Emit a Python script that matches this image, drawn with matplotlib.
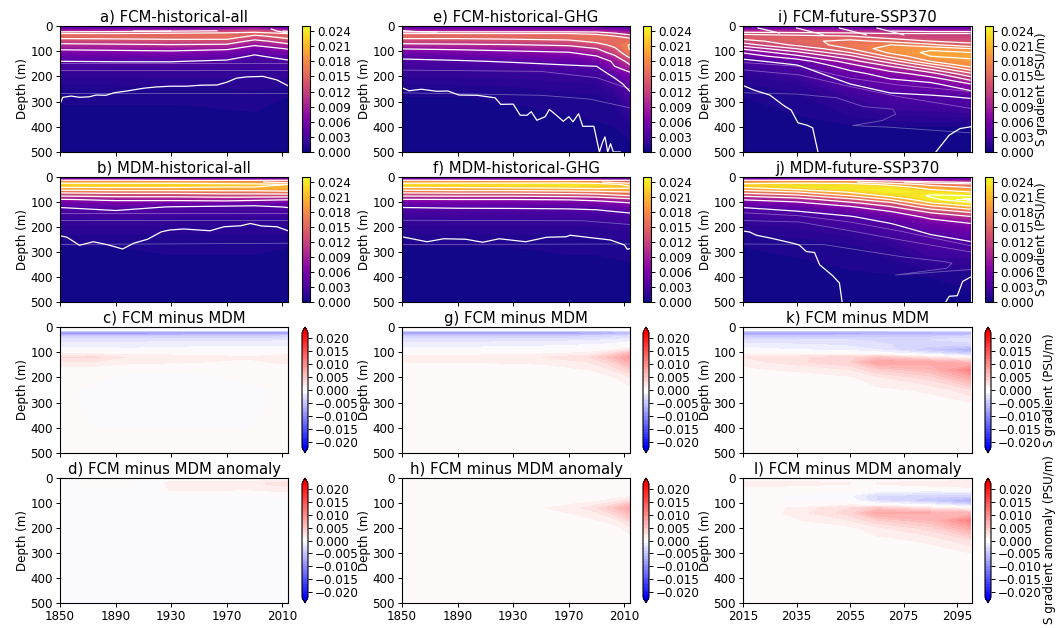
"""Salinity gradient depth-time panels: FCM, MDM and their differences."""

import matplotlib

matplotlib.use("Agg")
import matplotlib.pyplot as plt  # noqa: E402
import numpy as np  # noqa: E402

W, H = 1064, 628

# table values are in 0.001 PSU/m, one row per year knot
grad_depths = [0, 10, 20, 30, 40, 50, 60, 75, 90, 105, 120, 140, 160, 190, 230, 280, 400, 500]
diff_depths = [0, 12, 18, 25, 35, 50, 70, 90, 105, 120, 140, 170, 200, 250, 300, 500]

hist_years = [1850, 1890, 1930, 1970, 1990, 2014]
e_years = [1850, 1890, 1930, 1970, 1990, 2003, 2014]
future_years = [2015, 2035, 2055, 2070, 2085, 2100]

a_grad = [
    [4, 5, 9, 14, 15.5, 14, 12, 9.8, 7.5, 5.8, 4.6, 3.5, 2.5, 1.7, 1, 0.6, 0.2, 0.1],
    [4, 5, 9.5, 14, 15.5, 14.2, 12.4, 10, 7.8, 6, 4.7, 3.6, 2.5, 1.7, 1, 0.6, 0.2, 0.1],
    [4, 5, 10.5, 14.5, 15.5, 14.5, 12.7, 10.3, 8, 6.3, 5, 3.6, 2.6, 1.7, 1.1, 0.6, 0.2, 0.1],
    [4, 6, 11.5, 15, 16, 14.5, 12.7, 10, 7.5, 5.5, 4.4, 3.2, 2.4, 1.7, 1.1, 0.7, 0.2, 0.1],
    [4, 8, 13, 15, 13.5, 11.5, 9.5, 7.3, 5.5, 4, 3.2, 2.5, 2.1, 1.6, 1.2, 0.8, 0.2, 0.1],
    [4, 5, 10, 14, 15, 14, 12, 9.8, 7.2, 5.7, 4.4, 3.2, 2.5, 1.8, 1, 0.5, 0.2, 0.1],
]
b_grad = [
    [3, 6, 19, 23, 21.5, 18.5, 15, 10.8, 6.8, 4.8, 3.6, 2.6, 2, 1.5, 1, 0.5, 0.2, 0.1],
    [3, 6, 19, 23, 21.5, 19, 15.5, 11.5, 7.6, 5.6, 4.2, 3.2, 2.2, 1.5, 1, 0.5, 0.2, 0.1],
    [3, 6, 19, 23, 21.5, 19, 15.5, 11.5, 7.8, 5, 3.4, 2.7, 2, 1.5, 1, 0.6, 0.2, 0.1],
    [3, 6, 18, 22.5, 21, 19, 16, 12, 8.3, 4.8, 3.1, 2.5, 2, 1.5, 1, 0.6, 0.2, 0.1],
    [3, 6, 18, 22, 21, 19, 16, 12, 7.8, 4.5, 3, 2.5, 2, 1.5, 1, 0.6, 0.2, 0.1],
    [3, 6, 16, 21, 21, 19.5, 16.5, 12, 7.2, 4.8, 3.6, 2.7, 2, 1.5, 1, 0.5, 0.2, 0.1],
]
e_grad = [
    [4, 5, 9, 14, 15.5, 14, 12, 9.8, 7.1, 5.4, 4.1, 3, 2.3, 1.7, 1, 0.5, 0.2, 0.1],
    [4, 5, 9, 14, 15.5, 14, 12.3, 10, 7.5, 5.7, 4.4, 3.3, 2.3, 1.7, 1, 0.5, 0.2, 0.1],
    [4, 5, 9, 14, 15.5, 14.4, 12.7, 10.3, 8, 6.3, 5.2, 3.7, 2.8, 1.8, 1.1, 0.6, 0.2, 0.1],
    [4, 5, 9, 14, 15.5, 15, 13.2, 11, 8.6, 6.9, 5.7, 4.4, 3.2, 2.1, 1.3, 0.8, 0.3, 0.1],
    [4, 5, 9, 13, 16, 16, 15, 12.7, 10.4, 8.6, 6.9, 5.2, 3.5, 2.3, 1.5, 0.9, 0.4, 0.2],
    [3.5, 4.5, 8, 11, 14, 15.5, 15.5, 15, 13.5, 12, 10, 7.5, 7, 4.2, 2.5, 1.2, 0.5, 0.2],
    [3, 4, 7, 9, 12, 14.4, 16, 17.8, 17.8, 16.7, 15, 12, 9.8, 6.2, 4.4, 2.9, 0.7, 0.3],
]
f_grad = [
    [3, 6, 19, 23, 21.5, 18.5, 15, 10.8, 6.8, 4.8, 3.6, 2.6, 2, 1.5, 1, 0.5, 0.2, 0.1],
    [3, 6, 19, 23.5, 21.5, 19, 15.5, 11, 7, 5, 3.7, 2.9, 2.1, 1.5, 1, 0.5, 0.2, 0.1],
    [3, 6, 19, 23.5, 22, 19, 15.5, 11, 7, 5, 3.7, 3, 2.1, 1.5, 1, 0.5, 0.2, 0.1],
    [3, 6, 19, 24, 22.5, 19.5, 16, 11.5, 7.2, 5.1, 3.8, 3, 2.1, 1.5, 1, 0.6, 0.2, 0.1],
    [3, 6, 18, 23.5, 22.5, 20, 16.5, 12, 7.8, 5.5, 4, 3.1, 2.2, 1.6, 1.1, 0.6, 0.2, 0.1],
    [3, 5, 15, 20, 21.5, 20.5, 17.5, 14, 9.5, 6.7, 5, 3.7, 2.7, 1.9, 1.3, 0.7, 0.3, 0.1],
]
i_grad = [
    [3, 5, 10, 13, 14.5, 14, 12.5, 10.5, 7.8, 5.7, 4.2, 3, 2.2, 1.5, 0.9, 0.5, 0.2, 0.1],
    [3, 5, 10, 12.5, 14, 15, 15, 14, 11.5, 9, 7, 4.3, 3.2, 2.4, 1.4, 0.8, 0.3, 0.2],
    [3, 5, 10, 12, 13.5, 15, 16, 16.5, 15.5, 13.5, 11, 8.5, 6.5, 4.7, 3.5, 2, 0.4, 0.2],
    [3, 5, 9.5, 11.5, 12.5, 13.5, 15, 17.5, 19, 18, 16, 12.5, 9.5, 6.5, 4.5, 3.1, 0.5, 0.3],
    [3, 5, 9, 11.5, 12, 12.5, 13.5, 16, 19, 20, 19.5, 17.5, 13.5, 8.5, 5, 3.3, 0.5, 0.3],
    [3, 5, 9, 11.5, 12, 12.5, 13, 14, 17.5, 19.5, 20, 19, 18, 13, 7.5, 3.7, 0.5, 0.3],
]
j_grad = [
    [3, 6, 18, 22.5, 21.5, 18.5, 15.5, 11, 7.2, 5, 3.6, 2.7, 2, 1.4, 0.9, 0.5, 0.2, 0.1],
    [3, 6, 19, 23.5, 23.5, 21, 17.5, 13, 8.8, 6, 4.4, 3.3, 2.4, 1.7, 1.1, 0.6, 0.3, 0.1],
    [3, 6, 18, 23, 24, 23.5, 21.5, 17.5, 13, 9.5, 6.5, 4.4, 3.3, 2.4, 1.6, 0.8, 0.4, 0.2],
    [3, 5, 15, 20, 23, 24.5, 24.5, 22, 17.5, 13, 10, 6.6, 4.6, 3.3, 2.4, 1.4, 0.4, 0.3],
    [3, 5, 12, 16.5, 19, 21, 23.5, 24.8, 24, 20.5, 16, 11, 7.7, 5, 3.5, 2.7, 0.5, 0.3],
    [3, 5, 11, 15, 17, 19, 21, 24.5, 26, 24, 20, 14.5, 10, 6.5, 4.4, 2.8, 0.6, 0.4],
]

c_years = [1850, 1875, 1900, 1950, 1985, 2014]
c_diff = [
    [0, -0.5, -7, -9.5, -4.5, -2.5, -1.5, -0.6, 0.8, 3, 1.8, 0.3, 0.2, 0.2, 0.2, 0.2],
    [0, -0.5, -7, -9.5, -4.5, -2.5, -1.5, -0.6, 0.8, 3.2, 1.8, 0.3, 0.2, -0.2, -0.2, 0.2],
    [0, -0.5, -7, -9.5, -4.5, -2.5, -1.5, -0.8, 0.6, 1.8, 1.2, 0.2, -0.2, -0.2, -0.2, 0.2],
    [0, -0.5, -7, -9, -4.5, -2.5, -1.3, -0.6, 0.5, 1.6, 1, 0.2, -0.2, -0.2, -0.2, 0.2],
    [0, -0.5, -7, -9, -4.5, -2.5, -1.3, -0.5, 0.4, 1.1, 0.8, 0.2, 0.2, -0.2, -0.2, 0.2],
    [0, -0.5, -6.5, -8.5, -4, -2.2, -1.2, -0.5, 0.6, 1.8, 1.2, 0.3, 0.2, 0.2, 0.2, 0.2],
]
d_years = [1850, 1875, 1920, 1930, 1985, 2014]
d_diff = [
    [0, -0.3, -0.5, -0.6, -0.4, -0.2, -0.2, -0.2, -0.2, -0.2, -0.2, -0.2, -0.2, -0.2, -0.2, -0.2],
    [0, 0.4, 0.6, 0.5, 0.3, -0.2, -0.2, -0.3, -0.2, -0.2, -0.2, -0.2, -0.2, -0.2, -0.2, -0.2],
    [0, -0.2, -0.3, -0.3, -0.2, -0.2, -0.2, -0.2, -0.2, -0.2, -0.2, -0.2, -0.2, -0.2, -0.2, -0.2],
    [0, 1, 1.8, 1.8, 1.6, 1.1, -0.2, -0.2, -0.2, -0.2, -0.2, -0.2, -0.2, -0.2, -0.2, -0.2],
    [0, 0.8, 1.6, 1.6, 1.4, 0.9, -0.2, -0.2, -0.2, -0.2, -0.2, -0.2, -0.2, -0.2, -0.2, -0.2],
    [0, 1.5, 2.5, 2.5, 2, 1.3, 0.2, -0.2, -0.2, -0.2, -0.2, -0.2, -0.2, -0.2, -0.2, -0.2],
]
g_years = [1850, 1900, 1950, 1985, 2000, 2014]
g_diff = [
    [0, -0.5, -7, -9, -4.5, -2.5, -1.5, -0.5, 0.6, 1.5, 1, 0.3, 0.2, 0.2, 0.2, 0.2],
    [0, -0.5, -7, -9, -4.5, -2.5, -1.5, -0.5, 0.6, 1.5, 1, 0.3, 0.2, 0.2, 0.2, 0.2],
    [0, -0.5, -7, -9, -4.5, -2.5, -1.3, -0.3, 0.8, 2, 1.2, 0.4, 0.2, 0.2, 0.2, 0.2],
    [0, -0.5, -6.5, -8, -4, -2.2, -1, 0.3, 1.3, 3, 2, 1, 0.4, 0.3, 0.2, 0.2],
    [0, -0.5, -6, -7.5, -3.5, -2, -0.8, 0.8, 3, 5.5, 3.5, 2, 0.8, 0.4, 0.2, 0.2],
    [0, -0.5, -5, -6, -3, -1.5, -0.3, 2, 6, 8.5, 7, 4, 1.8, 0.6, 0.3, 0.2],
]
h_years = [1850, 1925, 1970, 1990, 2003, 2014]
h_diff = [
    [0, 0.2, 0.2, 0.2, 0.2, 0.2, 0.2, 0.2, 0.2, 0.2, 0.2, 0.2, 0.2, 0.2, 0.2, 0.2],
    [0, 0.2, 0.2, 0.2, 0.2, 0.2, 0.2, 0.2, 0.3, 0.5, 0.3, 0.2, 0.2, 0.2, 0.2, 0.2],
    [0, 0.2, 0.2, 0.2, 0.2, 0.2, 0.2, 0.4, 0.9, 1.3, 1, 0.4, 0.2, 0.2, 0.2, 0.2],
    [0, 0.2, 0.2, 0.2, 0.2, 0.2, 0.2, 0.7, 1.7, 2.8, 1.8, 0.9, 0.3, 0.2, 0.2, 0.2],
    [0, 0.2, 0.2, 0.2, 0.2, 0.2, 0.3, 1.5, 3, 5, 3.5, 1.5, 0.6, 0.2, 0.2, 0.2],
    [0, 0.2, 0.2, 0.2, 0.2, 0.2, 0.6, 2.5, 5.5, 7.5, 6, 3.5, 1.5, 0.5, 0.2, 0.2],
]
k_years = [2015, 2021, 2055, 2065, 2085, 2100]
k_diff = [
    [0, -0.5, -6, -8.5, -5, -3, -1.5, -0.5, 0.6, 2, 1.5, 0.5, -0.2, -0.2, -0.2, -0.2],
    [0, -0.5, -6, -8.5, -5, -3, -1.6, -0.7, 0.6, 2.3, 1.8, 0.8, 0.2, 0.2, 0.2, 0.2],
    [0, -0.5, -6, -8, -5, -3, -2.2, -1.5, 0.5, 3.5, 4, 2, 0.8, 0.2, 0.2, 0.2],
    [0, -0.5, -6, -7.5, -5, -3.2, -2.8, -2, -0.3, 5, 8, 4, 1.8, 0.7, 0.2, 0.2],
    [0, -0.5, -5.5, -7.5, -4.5, -3, -3.5, -5, -2, 2, 7.5, 6, 3.5, 1.2, 0.5, 0.2],
    [0, -0.5, -5, -7, -4, -2.5, -3.5, -7.5, -4.5, 0.3, 6, 10.5, 7.5, 2.8, 1, 0.2],
]
l_years = [2015, 2021, 2055, 2065, 2085, 2100]
l_diff = [
    [0, 0.8, 1.5, 1.5, 1, 0.5, -0.2, -0.2, -0.2, -0.2, -0.2, -0.2, -0.2, -0.2, -0.2, -0.2],
    [0, 1, 1.5, 1.5, 1, 0.8, 0.3, 0.1, 0.1, 0.1, 0.1, 0.1, 0.1, 0.1, 0.1, 0.1],
    [0, 0.5, 1, 1, 0.6, 0.3, -0.8, -0.3, 0.6, 3, 3.5, 2, 0.7, 0.2, 0.2, 0.2],
    [0, 0.5, 1, 1, 0.5, -0.5, -3, -3, -0.3, 4.5, 7.5, 3.8, 1.7, 0.6, 0.2, 0.2],
    [0, 0.8, 1.5, 1.5, 0.8, -0.8, -3.5, -5, -1.5, 2, 7, 6, 3.5, 1.2, 0.5, 0.2],
    [0, 1.2, 2, 2, 1.2, -0.5, -3.5, -7.5, -4, 0.5, 6, 10.5, 7.5, 2.8, 1, 0.2],
]

# bold contours traced by hand (year, depth)
a_line = [
    [1850, 1852, 1858, 1864, 1871, 1876, 1883, 1889, 1898, 1910, 1919, 1929, 1941, 1951, 1963,
     1970, 1977, 1984, 1996, 2006, 2014],
    [310, 283, 278, 283, 281, 274, 275, 265, 258, 247, 242, 239, 239, 235, 234,
     223, 207, 202, 200, 214, 237],
]
a_top = [[1903, 1920, 1940, 1963], [20, 21, 20, 19]]
a_top2 = [[2002, 2006, 2014], [12, 20, 28]]
b_line = [
    [1850, 1855, 1864, 1874, 1885, 1895, 1903, 1913, 1923, 1929, 1939, 1958, 1968, 1980, 1987,
     1995, 2006, 2014],
    [235, 241, 273, 259, 272, 288, 265, 249, 219, 212, 208, 215, 199, 195, 186, 196, 199, 215],
]
b_top = [[1850, 1900, 1950, 2014], [13, 13, 14, 13]]
e_line = [
    [1850, 1855, 1864, 1875, 1883, 1891, 1904, 1917, 1921, 1930, 1935, 1940, 1943, 1947, 1953,
     1956, 1961, 1966, 1970, 1973, 1977, 1980, 1988, 1992, 1994, 1996, 1998, 2000, 2002, 2007],
    [245, 257, 251, 259, 258, 274, 275, 285, 311, 310, 354, 354, 340, 374, 360,
     331, 354, 378, 360, 380, 348, 398, 398, 500, 465, 440, 500, 467, 500, 500],
]
e_top = [[1850, 1860, 1875], [18, 22, 24]]
f_line = [
    [1850, 1858, 1868, 1880, 1896, 1908, 1920, 1939, 1954, 1968, 1971, 1983, 2000, 2010, 2012, 2014],
    [239, 248, 259, 247, 249, 261, 247, 259, 241, 239, 233, 241, 252, 272, 289, 286],
]
f_top = [[1850, 1950, 2014], [13, 14, 13]]
i_line = [
    [2015, 2019, 2025, 2030, 2033, 2035.5, 2039, 2041, 2043],
    [236, 254, 274, 314, 334, 384, 394, 404, 500],
]
i_line2 = [[2087, 2092, 2096, 2100], [500, 433, 407, 400]]
i_top = [[2020.6, 2028.6], [8, 28]]
i_top2 = [[2035, 2045], [8, 35]]
i_top3 = [[2051, 2061], [8, 35]]
i_top4 = [[2065, 2075], [8, 35]]
j_line = [
    [2015, 2017.5, 2020, 2025.6, 2033.6, 2036, 2038.6, 2041.7, 2043.6, 2048.5, 2051, 2052],
    [216, 220, 233, 245, 265, 272, 298, 302, 351, 395, 424, 500],
]
j_line2 = [[2090.7, 2092, 2095, 2097, 2100], [500, 477, 475, 418, 400]]
j_top = [[2015, 2060, 2100], [13, 14, 22]]

# faint contours
flat_years = [1850, 2014]
a_faint = [[flat_years, [265, 265]], [flat_years, [175, 175]], [flat_years, [145, 145]]]
b_faint = [[flat_years, [270, 265]], [flat_years, [173, 173]], [flat_years, [143, 143]]]
e_faint = [
    [[1850, 1950, 1985, 2014], [265, 275, 290, 325]],
    [[1850, 1950, 1990, 2014], [175, 180, 205, 250]],
]
f_faint = [
    [[1850, 2014], [270, 268]],
    [[1850, 1980, 2014], [173, 175, 190]],
]
i_faint = [
    [[2015, 2035, 2050, 2060, 2071, 2072, 2067, 2056, 2070, 2100],
     [265, 270, 285, 320, 330, 350, 375, 395, 402, 424]],
    [[2015, 2036, 2055, 2073, 2100], [174, 194, 240, 280, 327]],
    [[2015, 2036, 2055, 2073, 2100], [145, 160, 207, 234, 260]],
]
j_faint = [
    [[2015, 2045, 2060, 2075, 2090, 2093, 2091, 2072, 2100],
     [268, 270, 295, 320, 338, 345, 365, 392, 370]],
    [[2015, 2036, 2055, 2073, 2100], [174, 180, 215, 250, 300]],
    [[2015, 2036, 2055, 2073, 2100], [143, 155, 180, 215, 275]],
]

grad_panels = [
    ("a) FCM-historical-all", a_grad, hist_years, [a_line, a_top, a_top2], a_faint, 0, 0),
    ("b) MDM-historical-all", b_grad, hist_years, [b_line, b_top], b_faint, 0, 1),
    ("e) FCM-historical-GHG", e_grad, e_years, [e_line, e_top], e_faint, 1, 0),
    ("f) MDM-historical-GHG", f_grad, hist_years, [f_line, f_top], f_faint, 1, 1),
    ("i) FCM-future-SSP370", i_grad, future_years,
     [i_line, i_line2, i_top, i_top2, i_top3, i_top4], i_faint, 2, 0),
    ("j) MDM-future-SSP370", j_grad, future_years, [j_line, j_line2, j_top], j_faint, 2, 1),
]
diff_panels = [
    ("c) FCM minus MDM", c_diff, c_years, 0, 2),
    ("d) FCM minus MDM anomaly", d_diff, d_years, 0, 3),
    ("g) FCM minus MDM", g_diff, g_years, 1, 2),
    ("h) FCM minus MDM anomaly", h_diff, h_years, 1, 3),
    ("k) FCM minus MDM", k_diff, k_years, 2, 2),
    ("l) FCM minus MDM anomaly", l_diff, l_years, 2, 3),
]

# pixel layout of the reference
COL_X = [(60, 288), (402, 630), (743, 972)]
ROW_Y = [(26, 152), (177, 302), (327, 453), (478, 603)]
CB_X = [302, 643, 985]
FS = 8.6
TITLE_FS = 10.7

GRAD_LEVELS = np.arange(0, 0.02501, 0.0005)
GRAD_LINES = np.arange(0.0035, 0.0246, 0.0035)
# panel i carries more lines than the rest
I_LINES = np.arange(0.0035, 0.0246, 0.002)
DIFF_LEVELS = np.arange(-0.022, 0.02201, 0.001)


def px_axes(fig, x0, x1, y0, y1):
    return fig.add_axes([x0 / W, 1 - y1 / H, (x1 - x0) / W, (y1 - y0) / H])


def style_axes(ax, col, row):
    ax.set_ylim(500, 0)
    ax.set_yticks(range(0, 501, 100))
    if col == 2:
        ax.set_xlim(2015, 2100.5)
        ax.set_xticks([2015, 2035, 2055, 2075, 2095])
    else:
        ax.set_xlim(1850, 2014)
        ax.set_xticks([1850, 1890, 1930, 1970, 2010])
    if row != 3:
        ax.set_xticklabels([])
    ax.tick_params(labelsize=FS, pad=2, length=3, width=0.7)
    ax.set_ylabel("Depth (m)", fontsize=FS, labelpad=1)


fig = plt.figure(figsize=(W / 100, H / 100), dpi=100)

for title, table, years, bold, faint, col, row in grad_panels:
    ax = px_axes(fig, *COL_X[col], *ROW_Y[row])
    field = np.array(table).T * 1e-3
    cf = ax.contourf(years, grad_depths, field, levels=GRAD_LEVELS, cmap="plasma")
    # upper 20 m is left out, there the lines are traced ones
    line_levels = I_LINES if (col, row) == (2, 0) else GRAD_LINES
    ax.contour(years, grad_depths[2:], field[2:], levels=line_levels, colors="white", linewidths=0.9)
    for line_x, line_y in bold:
        ax.plot(line_x, line_y, color="white", lw=0.9)
    for line_x, line_y in faint:
        ax.plot(line_x, line_y, color="white", lw=0.6, alpha=0.35)
    style_axes(ax, col, row)
    ax.set_title(title, fontsize=TITLE_FS, pad=3)

    cax = px_axes(fig, CB_X[col], CB_X[col] + 8, *ROW_Y[row])
    cb = fig.colorbar(cf, cax=cax, ticks=np.arange(0, 0.0241, 0.003))
    cb.ax.tick_params(labelsize=FS, pad=2, length=3, width=0.7)
    if col == 2:
        cb.set_label("S gradient (PSU/m)", fontsize=FS, labelpad=1)

for title, table, years, col, row in diff_panels:
    ax = px_axes(fig, *COL_X[col], *ROW_Y[row])
    field = np.array(table).T * 1e-3
    cf = ax.contourf(years, diff_depths, field, levels=DIFF_LEVELS, cmap="bwr", extend="both")
    style_axes(ax, col, row)
    ax.set_title(title, fontsize=TITLE_FS, pad=3)

    cax = px_axes(fig, CB_X[col], CB_X[col] + 6, *ROW_Y[row])
    cb = fig.colorbar(cf, cax=cax, ticks=np.arange(-0.02, 0.0201, 0.005), extendfrac=0.05)
    cb.ax.tick_params(labelsize=FS, pad=2, length=3, width=0.7)

fig.text(1050 / W, 1 - 390 / H, "S gradient (PSU/m)", fontsize=FS, rotation=90,
         ha="center", va="center")
fig.text(1050 / W, 1 - 540 / H, "S gradient anomaly (PSU/m)", fontsize=FS, rotation=90,
         ha="center", va="center")

fig.savefig("out.png", dpi=100)
